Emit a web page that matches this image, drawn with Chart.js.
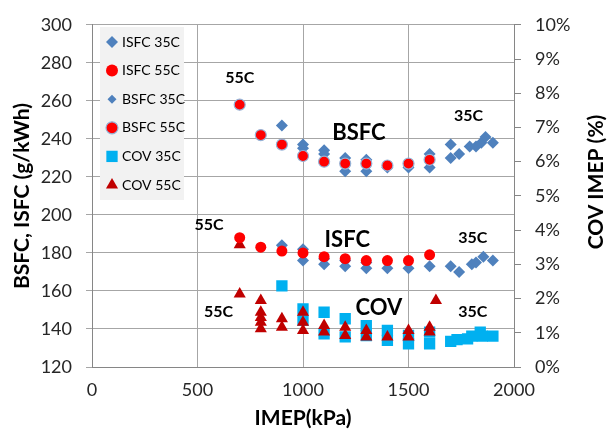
<!DOCTYPE html>
<html>
<head>
<meta charset="utf-8">
<script src="https://cdn.jsdelivr.net/npm/chart.js@4.4.1/dist/chart.umd.min.js"></script>
<style>
  html, body { margin: 0; padding: 0; background: #fff; }
  #wrap { width: 608px; height: 433px; }
</style>
</head>
<body>
<div id="wrap"><canvas id="fcChart" width="608" height="433"></canvas></div>
<script>
// values: IMEP (kPa) vs ISFC/BSFC (g/kWh) and COV of IMEP (%)
const isfc35X = [900, 1000, 1000, 1100, 1100, 1200, 1200, 1300, 1300, 1400, 1500, 1600, 1700, 1740, 1800, 1820, 1855, 1900];
const isfc35Y = [184, 182, 176, 177, 174, 176, 173, 175, 172, 172, 172, 173, 173, 170, 174, 175, 178, 176];

const isfc55X = [700, 800, 900, 1000, 1100, 1200, 1300, 1400, 1500, 1600];
const isfc55Y = [188, 183, 181, 180, 178, 177, 176, 176, 176, 179];

const bsfc35X = [900, 1000, 1000, 1100, 1100, 1200, 1200, 1300, 1300, 1400, 1500, 1600, 1600, 1700, 1700, 1740, 1790, 1820, 1845, 1865, 1900];
const bsfc35Y = [247, 237, 235, 234, 232, 230, 223, 229, 223, 225, 225, 232, 225, 237, 230, 232, 236, 236, 238, 241, 238];

const bsfc55X = [700, 800, 900, 1000, 1100, 1200, 1300, 1400, 1500, 1600];
const bsfc55Y = [258, 242, 237, 231, 228, 227, 227, 226, 227, 229];

const cov35X = [900, 1000, 1000, 1100, 1100, 1200, 1200, 1300, 1300, 1400, 1400, 1500, 1500, 1600, 1600, 1700, 1730, 1780, 1800, 1840, 1850, 1900];
const cov35Y = [2.37, 1.70, 1.36, 1.60, 0.97, 1.41, 0.88, 1.21, 0.92, 1.07, 0.78, 0.92, 0.68, 1.02, 0.68, 0.75, 0.80, 0.82, 0.90, 1.02, 0.90, 0.90];

const cov55X = [700, 700, 800, 800, 800, 800, 800, 900, 900, 1000, 1000, 1000, 1100, 1100, 1200, 1200, 1300, 1300, 1400, 1500, 1500, 1600, 1600, 1630];
const cov55Y = [3.57, 2.13, 1.94, 1.60, 1.45, 1.31, 1.12, 1.41, 1.16, 1.60, 1.31, 1.07, 1.21, 1.02, 1.16, 0.92, 1.07, 0.88, 0.88, 1.07, 0.88, 1.16, 1.02, 1.94];

const xTicks = [0, 500, 1000, 1500, 2000];

const pts = (xs, ys) => xs.map((x, i) => ({ x: x, y: ys[i] }));

// text written inside the plot, placed in data units
const notes = [
  { text: '55C', x: 700, y: 272, size: 16 },
  { text: 'BSFC', x: 1265, y: 243, size: 22 },
  { text: '35C', x: 1785, y: 252, size: 16 },
  { text: '55C', x: 555, y: 195, size: 16 },
  { text: 'ISFC', x: 1210, y: 187, size: 22 },
  { text: '35C', x: 1805, y: 188, size: 16 },
  { text: '55C', x: 600, y: 149, size: 16 },
  { text: 'COV', x: 1360, y: 151, size: 22 },
  { text: '35C', x: 1805, y: 149, size: 16 }
];

const legendSize = [6, 6, 4.5, 6, 8, 7];
const gridColor = '#A6A6A6';
const font = 'Lato, "Open Sans", sans-serif';

const overlay = {
  id: 'overlay',
  beforeDatasetsDraw(chart) {
    const ctx = chart.ctx;
    ctx.save();
    ctx.fillStyle = '#F2F2F2';
    ctx.fillRect(100, 27, 84, 173);
    chart.data.datasets.forEach((ds, i) => {
      const cy = 42 + i * 28.6;
      ctx.fillStyle = ds.backgroundColor;
      ctx.strokeStyle = ds.borderColor;
      ctx.lineWidth = ds.borderWidth;
      Chart.helpers.drawPoint(ctx, { pointStyle: ds.pointStyle, radius: legendSize[i], borderWidth: ds.borderWidth, rotation: 0 }, 112, cy);
      ctx.fillStyle = '#000';
      ctx.font = '14px ' + font;
      ctx.textAlign = 'left';
      ctx.textBaseline = 'middle';
      ctx.fillText(ds.label, 122, cy);
    });
    ctx.restore();
  },
  afterDraw(chart) {
    const ctx = chart.ctx;
    const xs = chart.scales.x, ys = chart.scales.y;
    const area = chart.chartArea;
    ctx.save();
    ctx.fillStyle = '#000';
    ctx.textAlign = 'center';
    ctx.textBaseline = 'middle';
    notes.forEach(n => {
      ctx.font = 'bold ' + n.size + 'px ' + font;
      ctx.fillText(n.text, xs.getPixelForValue(n.x), ys.getPixelForValue(n.y));
    });
    ctx.font = 'bold 21px ' + font;
    ctx.fillText('IMEP(kPa)', (area.left + area.right) / 2, 418);
    ctx.save();
    ctx.translate(22, 196);
    ctx.rotate(-Math.PI / 2);
    ctx.fillText('BSFC, ISFC (g/kWh)', 0, 0);
    ctx.restore();
    ctx.save();
    ctx.translate(596, 182);
    ctx.rotate(-Math.PI / 2);
    ctx.fillText('COV IMEP (%)', 0, 0);
    ctx.restore();
    ctx.restore();
  }
};

const ctx = document.getElementById('fcChart').getContext('2d');

const chart = new Chart(ctx, {
  type: 'scatter',
  data: {
    datasets: [
      { label: 'ISFC 35C', data: pts(isfc35X, isfc35Y), yAxisID: 'y', pointStyle: 'rectRot', pointRadius: 6,
        backgroundColor: '#4F81BD', borderColor: '#4F81BD', borderWidth: 0, order: 2 },
      { label: 'ISFC 55C', data: pts(isfc55X, isfc55Y), yAxisID: 'y', pointStyle: 'circle', pointRadius: 5.5,
        backgroundColor: '#FF0000', borderColor: '#FF0000', borderWidth: 0, order: 1 },
      { label: 'BSFC 35C', data: pts(bsfc35X, bsfc35Y), yAxisID: 'y', pointStyle: 'rectRot', pointRadius: 6,
        backgroundColor: '#4F81BD', borderColor: '#4F81BD', borderWidth: 0, order: 2 },
      { label: 'BSFC 55C', data: pts(bsfc55X, bsfc55Y), yAxisID: 'y', pointStyle: 'circle', pointRadius: 5.5,
        backgroundColor: '#FF0000', borderColor: '#95B3D7', borderWidth: 1.2, order: 1 },
      { label: 'COV 35C', data: pts(cov35X, cov35Y), yAxisID: 'y2', pointStyle: 'rect', pointRadius: 8,
        backgroundColor: '#00B0F0', borderColor: '#00B0F0', borderWidth: 0, order: 2 },
      { label: 'COV 55C', data: pts(cov55X, cov55Y), yAxisID: 'y2', pointStyle: 'triangle', pointRadius: 7,
        backgroundColor: '#C00000', borderColor: '#C00000', borderWidth: 0, order: 1 }
    ]
  },
  options: {
    responsive: false,
    animation: false,
    layout: { padding: { top: 21, left: 0, right: 0, bottom: 0 } },
    plugins: { legend: { display: false }, tooltip: { enabled: false } },
    scales: {
      x: {
        type: 'linear', min: 0, max: 2000,
        afterBuildTicks: s => { s.ticks = xTicks.map(v => ({ value: v })); },
        afterFit: s => { s.height = 66; },
        grid: { color: gridColor, drawTicks: false },
        border: { color: '#868686' },
        ticks: { padding: 12, color: '#262626', font: { family: font, size: 18 },
                 callback: v => String(v) }
      },
      y: {
        position: 'left', min: 120, max: 300,
        afterFit: s => { s.width = 92; },
        grid: { color: gridColor, tickLength: 6 },
        border: { color: '#868686' },
        ticks: { stepSize: 20, padding: 14, color: '#262626', font: { family: font, size: 18 } }
      },
      y2: {
        position: 'right', min: 0, max: 10,
        afterFit: s => { s.width = 94; },
        grid: { drawOnChartArea: false, color: '#868686', tickLength: 7 },
        border: { color: '#868686' },
        ticks: { stepSize: 1, padding: 14, color: '#262626', font: { family: font, size: 18 },
                 callback: v => v + '%' }
      }
    }
  },
  plugins: [overlay]
});
</script>
</body>
</html>
